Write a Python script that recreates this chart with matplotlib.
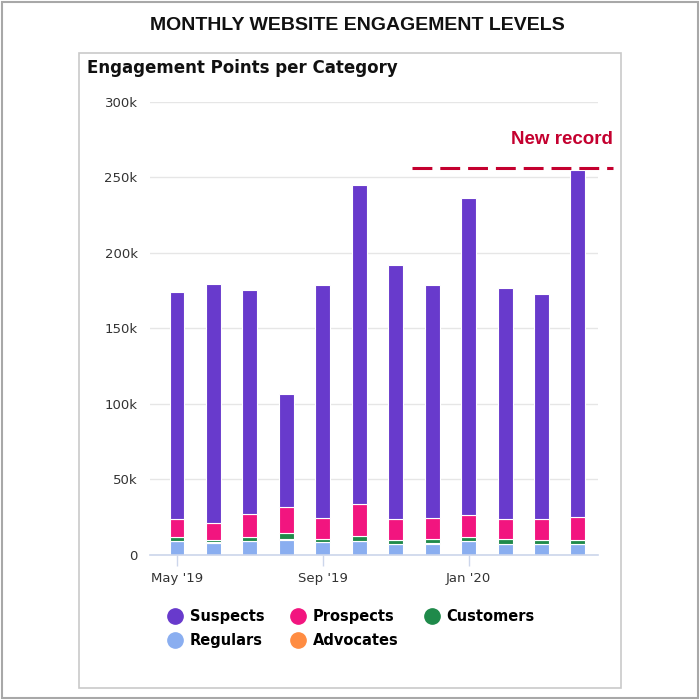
import matplotlib.pyplot as plt
import numpy as np
from matplotlib.lines import Line2D
from matplotlib.patches import Rectangle

# data (values in points)
months = ["May '19", "Jun '19", "Jul '19", "Aug '19", "Sep '19", "Oct '19",
          "Nov '19", "Dec '19", "Jan '20", "Feb '20", "Mar '20", "Apr '20"]
regulars = [9000, 8000, 9000, 10000, 8500, 9000, 7000, 7500, 9000, 7000, 7000, 7000]
advocates = [400, 300, 400, 500, 300, 400, 300, 300, 400, 300, 300, 300]
customers = [2600, 1700, 2600, 4200, 2100, 3500, 2900, 3100, 2400, 3600, 2900, 2900]
prospects = [11500, 11000, 15000, 16800, 13600, 21100, 13300, 13300, 14600, 12600, 13300, 15100]
suspects = [150500, 158500, 148500, 75000, 154000, 211000, 168500, 154800, 210100, 153500, 149000, 229700]
record_level = 256000
tick_months = ["May '19", "Sep '19", "Jan '20"]
y_ticks = [0, 50000, 100000, 150000, 200000, 250000, 300000]
y_labels = ["0", "50k", "100k", "150k", "200k", "250k", "300k"]

colors = {'Suspects': '#683acc', 'Prospects': '#f2157f', 'Customers': '#1f8a4a',
          'Regulars': '#8aaef0', 'Advocates': '#ff8c42'}

fig = plt.figure(figsize=(7, 7), dpi=100)

def fx(px):
    return px / 700

def fy(py):
    return 1 - py / 700

# outer frame and chart panel
fig.patches.append(Rectangle((0.003, 0.003), 0.994, 0.994, transform=fig.transFigure,
                             fill=False, ec='#a8a8a8', lw=1.5))
fig.patches.append(Rectangle((fx(79), fy(688)), (621 - 79) / 700, (688 - 53) / 700,
                             transform=fig.transFigure, fill=False, ec='#c9c9c9', lw=1.2))

fig.text(fx(357), fy(26), "MONTHLY WEBSITE ENGAGEMENT LEVELS", ha='center', va='center',
         fontsize=14, fontweight='bold', family='Liberation Sans', color='#111111')
fig.text(fx(87), fy(68), "Engagement Points per Category", ha='left', va='center',
         fontsize=12, fontweight='bold', family='DejaVu Sans', color='#111111')

ax = fig.add_axes([fx(150), fy(555), (598 - 150) / 700, (555 - 101.7) / 700])

x = np.arange(len(months))
bottom = np.zeros(len(months))
for name, vals in [('Regulars', regulars), ('Advocates', advocates), ('Customers', customers),
                   ('Prospects', prospects), ('Suspects', suspects)]:
    ax.bar(x, vals, 0.41, bottom=bottom, color=colors[name], edgecolor='white', linewidth=0.8)
    bottom += np.array(vals)

ax.set_xlim(-0.74, 11.55)
ax.set_ylim(0, 300000)
ax.set_yticks(y_ticks)
ax.set_yticklabels(y_labels)
ax.yaxis.grid(True, color='#e6e6e6', lw=1)
ax.set_axisbelow(True)
for s in ['top', 'right', 'left']:
    ax.spines[s].set_visible(False)
ax.spines['bottom'].set_color('#ccd6eb')
ax.spines['bottom'].set_linewidth(1.2)
ax.tick_params(axis='y', length=0, pad=9, labelsize=9.5, labelcolor='#333333')
ax.set_xticks([months.index(m) for m in tick_months])
ax.set_xticklabels(tick_months)
ax.tick_params(axis='x', length=8, color='#ccd6eb', width=1, labelsize=9.5,
               labelcolor='#333333', pad=4)

# new record marker
ax.plot([6.45, 11.96], [record_level, record_level], ls=(0, (6.5, 2.6)), lw=2.2,
        color='#c4002f', clip_on=False)
ax.text(11.96, 275000, "New record", ha='right', va='center', fontsize=13.5,
        fontweight='bold', family='Liberation Sans', color='#c4002f', clip_on=False)

order = ['Suspects', 'Regulars', 'Prospects', 'Advocates', 'Customers']
handles = [Line2D([], [], marker='o', ls='', markersize=11, markerfacecolor=colors[n],
                  markeredgecolor=colors[n]) for n in order]
fig.legend(handles, order, ncol=3, loc='upper left', bbox_to_anchor=(fx(168), fy(609)),
           frameon=False, handlelength=1.0, handletextpad=0.5, columnspacing=1.8,
           labelspacing=0.6, prop={'weight': 'bold', 'size': 10.5, 'family': 'DejaVu Sans'},
           borderpad=0, borderaxespad=0)

fig.savefig('out.png', dpi=100)
